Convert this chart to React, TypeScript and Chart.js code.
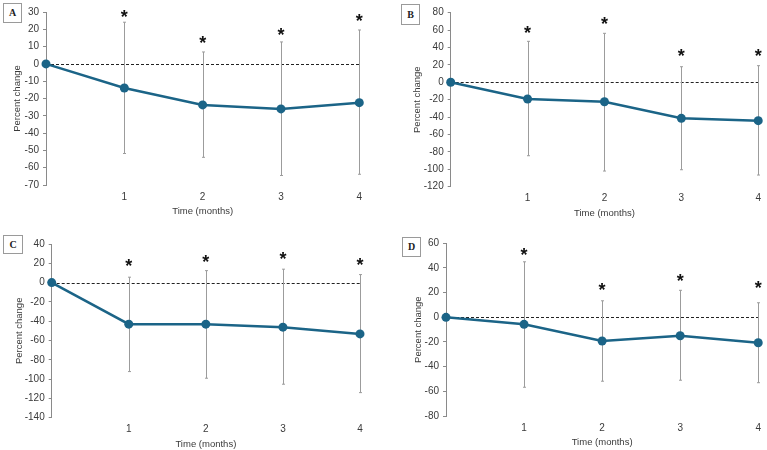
import React, { useEffect, useRef } from "react";
import { Chart, registerables } from "chart.js";

Chart.register(...registerables);

// ---------- data ----------
const months = [0, 1, 2, 3, 4];
const xTickLabels = [1, 2, 3, 4];

const meanA = [0, -13.9, -23.7, -26, -22.4];
const upperA = [null, 24.1, 6.9, 12.7, 19.6];
const lowerA = [null, -51.8, -54, -64.5, -63.8];
const starA = [null, 29.7, 14.5, 19.2, 27.3];

const meanB = [0, -19.2, -22.3, -41.4, -44.1];
const upperB = [null, 47.1, 56.3, 17.9, 19.1];
const lowerB = [null, -84.4, -102, -100.5, -106.6];
const starB = [null, 60.9, 71.6, 34.5, 35.2];

const meanC = [0, -43.1, -43.1, -46.2, -53.2];
const upperC = [null, 5.6, 12.4, 13.9, 8.3];
const lowerC = [null, -92.2, -99.1, -105.3, -114];
const starC = [null, 21.1, 25.3, 28.7, 22.5];

const meanD = [0, -5.7, -19.2, -14.9, -20.6];
const upperD = [null, 45, 13.4, 21.9, 11.8];
const lowerD = [null, -56.7, -51.8, -51, -53];
const starD = [null, 53.9, 25.6, 32.4, 27];

const yRangeA = { min: -70, max: 30, step: 10 };
const yRangeB = { min: -120, max: 80, step: 20 };
const yRangeC = { min: -140, max: 40, step: 20 };
const yRangeD = { min: -80, max: 60, step: 20 };

const xTitle = "Time (months)";
const yTitle = "Percent change";

// ---------- layout (styles only) ----------
type Layout = {
  left: number; top: number; w: number; h: number;
  cl: number; cr: number; ct: number; cb: number; tp: number;
  box: { x: number; y: number; w: number; h: number };
};

const LINE = "#1b6487";
const FONT = "'Liberation Sans', Arial, sans-serif";
const TXT = "#3a3a3a";

const overlayPlugin = {
  id: "overlay",
  beforeDatasetsDraw(chart: any) {
    const o = chart.options.plugins.overlay;
    const { ctx, chartArea } = chart;
    const x = chart.scales.x;
    const y = chart.scales.y;
    ctx.save();
    const y0 = Math.round(y.getPixelForValue(0)) + 0.5;
    ctx.strokeStyle = "#222";
    ctx.lineWidth = 1;
    ctx.setLineDash([3, 2]);
    ctx.beginPath();
    ctx.moveTo(chartArea.left, y0);
    ctx.lineTo(chartArea.right, y0);
    ctx.stroke();
    ctx.setLineDash([]);
    ctx.strokeStyle = "#9c9c9c";
    ctx.lineWidth = 1;
    o.upper.forEach((u: number | null, i: number) => {
      const l = o.lower[i];
      if (u == null || l == null) return;
      const px = Math.round(x.getPixelForValue(months[i])) + 0.5;
      const pu = y.getPixelForValue(u);
      const pl = y.getPixelForValue(l);
      ctx.beginPath();
      ctx.moveTo(px, pu);
      ctx.lineTo(px, pl);
      ctx.moveTo(px - 1.5, pu);
      ctx.lineTo(px + 1.5, pu);
      ctx.moveTo(px - 1.5, pl);
      ctx.lineTo(px + 1.5, pl);
      ctx.stroke();
    });
    ctx.restore();
  },
  afterDraw(chart: any) {
    const o = chart.options.plugins.overlay;
    const { ctx } = chart;
    const x = chart.scales.x;
    const y = chart.scales.y;
    ctx.save();
    ctx.fillStyle = "#111";
    ctx.font = `bold 18px ${FONT}`;
    ctx.textAlign = "center";
    ctx.textBaseline = "alphabetic";
    o.star.forEach((s: number | null, i: number) => {
      if (s == null) return;
      const px = x.getPixelForValue(months[i]);
      const py = y.getPixelForValue(s);
      ctx.fillText("*", px, py + 10);
    });
    ctx.restore();
  },
};

type PanelProps = {
  label: string;
  mean: number[];
  upper: (number | null)[];
  lower: (number | null)[];
  star: (number | null)[];
  range: { min: number; max: number; step: number };
  lay: Layout;
};

function Panel({ label, mean, upper, lower, star, range, lay }: PanelProps) {
  const ref = useRef<HTMLCanvasElement | null>(null);
  useEffect(() => {
    if (!ref.current) return;
    const xH = 32.5;
    const chart = new Chart(ref.current, {
      type: "line",
      data: {
        labels: months,
        datasets: [
          {
            data: months.map((m, i) => ({ x: m, y: mean[i] })),
            borderColor: LINE,
            backgroundColor: LINE,
            borderWidth: 2.5,
            pointRadius: 4.5,
            pointBackgroundColor: LINE,
            pointBorderColor: LINE,
            pointBorderWidth: 0,
            clip: false as any,
            tension: 0,
          },
        ],
      },
      options: {
        responsive: false,
        animation: false,
        devicePixelRatio: 1,
        events: [],
        layout: {
          padding: {
            left: lay.tp,
            top: lay.ct,
            right: lay.w - lay.cr,
            bottom: lay.h - lay.cb - xH,
          },
        },
        plugins: {
          legend: { display: false },
          tooltip: { enabled: false },
          overlay: { upper, lower, star },
        } as any,
        scales: {
          x: {
            type: "linear",
            min: 0,
            max: 4,
            afterBuildTicks: (s: any) => {
              s.ticks = xTickLabels.map((v) => ({ value: v }));
            },
            afterFit: (s: any) => {
              s.height = xH;
            },
            grid: { display: false, drawTicks: false },
            border: { display: false },
            ticks: {
              padding: 6,
              color: TXT,
              font: { family: FONT, size: 10 },
              maxRotation: 0,
            },
            title: {
              display: true,
              text: xTitle,
              color: TXT,
              padding: 0,
              font: { family: FONT, size: 9.5 },
            },
          },
          y: {
            min: range.min,
            max: range.max,
            afterFit: (s: any) => {
              s.width = lay.cl - lay.tp;
            },
            ticks: {
              stepSize: range.step,
              padding: 4,
              color: TXT,
              font: { family: FONT, size: 10 },
            },
            grid: {
              display: true,
              drawOnChartArea: false,
              drawTicks: true,
              tickLength: 3,
              color: "#8a8a8a",
              lineWidth: 1,
            },
            border: { display: true, color: "#8a8a8a", width: 1 },
            title: {
              display: true,
              text: yTitle,
              color: TXT,
              padding: 0,
              font: { family: FONT, size: 9.5 },
            },
          },
        },
      },
      plugins: [overlayPlugin],
    });
    return () => chart.destroy();
  }, []);
  return (
    <>
      <canvas
        ref={ref}
        width={lay.w}
        height={lay.h}
        style={{ position: "absolute", left: lay.left, top: lay.top, width: lay.w, height: lay.h }}
      />
      <div
        style={{
          position: "absolute",
          left: lay.left + lay.box.x,
          top: lay.top + lay.box.y,
          width: lay.box.w,
          height: lay.box.h,
          boxSizing: "border-box",
          border: "1px solid #9a9a9a",
          background: "#fff",
          fontFamily: "'Liberation Serif', 'Times New Roman', serif",
          fontWeight: "bold",
          fontSize: 10,
          lineHeight: `${lay.box.h - 2}px`,
          textAlign: "center",
          color: "#222",
        }}
      >
        {label}
      </div>
    </>
  );
}

const layA: Layout = { left: 0, top: 0, w: 384, h: 225, cl: 46, cr: 359.3, ct: 12, cb: 185, tp: 12, box: { x: 3, y: 3, w: 19, h: 20 } };
const layB: Layout = { left: 384, top: 0, w: 383, h: 225, cl: 66.7, cr: 375.7, ct: 12.7, cb: 186.7, tp: 28, box: { x: 17, y: 4, w: 19, h: 21 } };
const layC: Layout = { left: 0, top: 225, w: 384, h: 225, cl: 51.7, cr: 360, ct: 19, cb: 192.7, tp: 14, box: { x: 3, y: 10, w: 20, h: 19 } };
const layD: Layout = { left: 384, top: 225, w: 383, h: 225, cl: 62, cr: 375.7, ct: 18.3, cb: 191, tp: 28.5, box: { x: 18, y: 12, w: 19, h: 20 } };

export default function App() {
  return (
    <div style={{ position: "absolute", left: 0, top: 0, width: 767, height: 450, background: "#fff", overflow: "hidden" }}>
      <Panel label="A" mean={meanA} upper={upperA} lower={lowerA} star={starA} range={yRangeA} lay={layA} />
      <Panel label="B" mean={meanB} upper={upperB} lower={lowerB} star={starB} range={yRangeB} lay={layB} />
      <Panel label="C" mean={meanC} upper={upperC} lower={lowerC} star={starC} range={yRangeC} lay={layC} />
      <Panel label="D" mean={meanD} upper={upperD} lower={lowerD} star={starD} range={yRangeD} lay={layD} />
    </div>
  );
}
